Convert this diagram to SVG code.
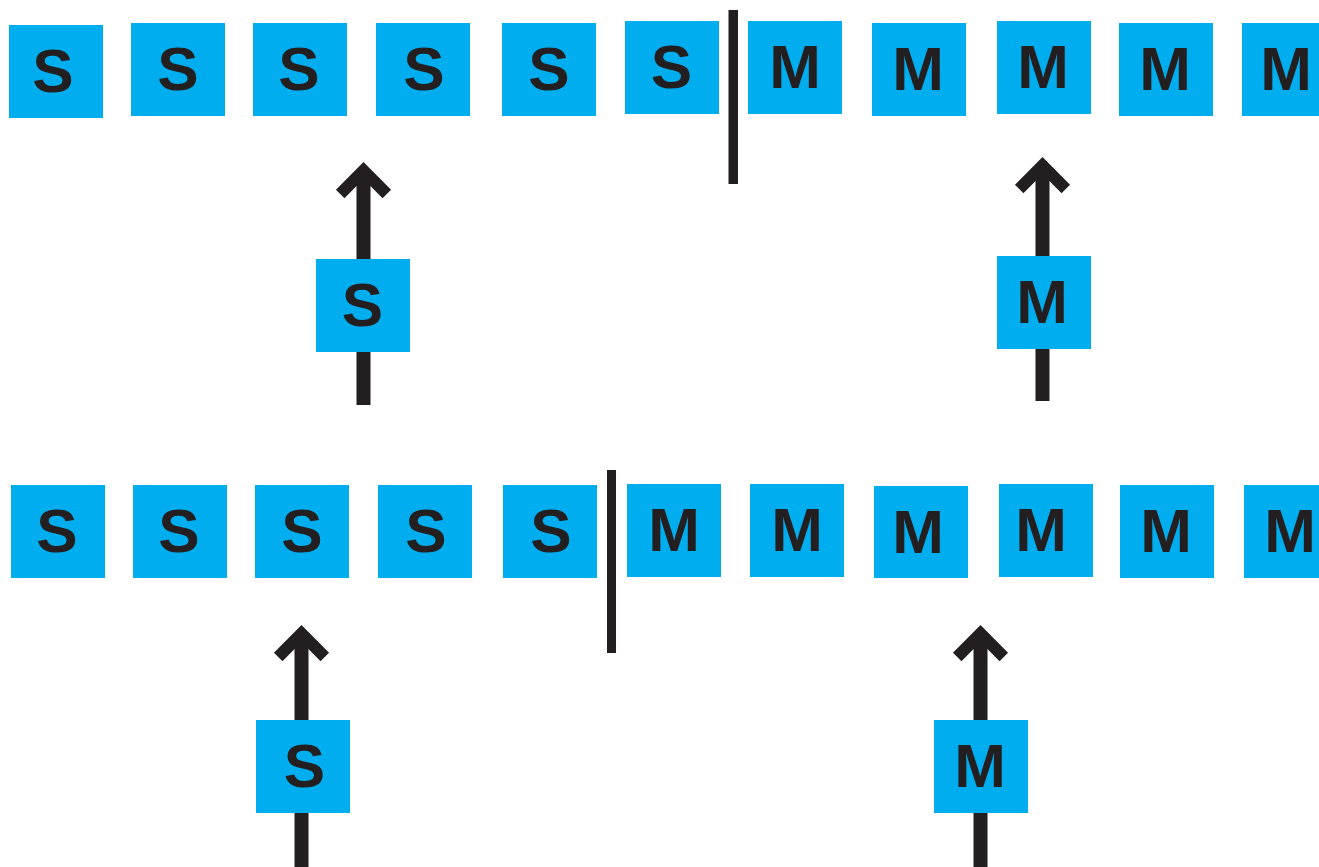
<svg xmlns="http://www.w3.org/2000/svg" width="1319" height="867" viewBox="0 0 1319 867">
  <style>
    .box { fill: #00AEEF; }
    .lbl { font-family: "Liberation Sans", Arial, sans-serif; font-weight: bold; font-size: 62px; fill: #231F20; text-anchor: middle; }
    .shaft { stroke: #231F20; stroke-width: 14; fill: none; stroke-linecap: butt; }
    .head { stroke: #231F20; stroke-width: 12; fill: none; stroke-linejoin: miter; stroke-miterlimit: 10; stroke-linecap: butt; }
    .divider { fill: #231F20; }
  </style>
  <rect width="1319" height="867" fill="#ffffff"/>

  <!-- arrows (shafts run under the moving boxes) -->
  <g id="connectors">
    <g id="arrow-top-s">
      <line class="shaft" x1="363.5" y1="171" x2="363.5" y2="405"/>
      <polyline class="head" points="340.2,194 363.5,170.5 386.8,194"/>
    </g>
    <g id="arrow-top-m">
      <line class="shaft" x1="1042.5" y1="166" x2="1042.5" y2="401"/>
      <polyline class="head" points="1019.2,189 1042.5,165.5 1065.8,189"/>
    </g>
    <g id="arrow-bottom-s">
      <line class="shaft" x1="301.5" y1="634" x2="301.5" y2="867"/>
      <polyline class="head" points="278.2,657 301.5,633.5 324.8,657"/>
    </g>
    <g id="arrow-bottom-m">
      <line class="shaft" x1="980.5" y1="634" x2="980.5" y2="867"/>
      <polyline class="head" points="957.2,657 980.5,633.5 1003.8,657"/>
    </g>
  </g>

  <!-- boundaries between the S and M runs -->
  <g id="dividers">
    <rect class="divider" x="728.5" y="10" width="9.5" height="174"/>
    <rect class="divider" x="607" y="470" width="9" height="183"/>
  </g>

  <!-- upper row -->
  <g id="top-row">
    <g id="t-s1"><rect class="box" x="9" y="25" width="94" height="93"/><text class="lbl" x="53" y="92">S</text></g>
    <g id="t-s2"><rect class="box" x="131" y="23" width="94" height="93"/><text class="lbl" x="178" y="90">S</text></g>
    <g id="t-s3"><rect class="box" x="253" y="23" width="94" height="93"/><text class="lbl" x="299" y="90">S</text></g>
    <g id="t-s4"><rect class="box" x="376" y="23" width="94" height="93"/><text class="lbl" x="424" y="90">S</text></g>
    <g id="t-s5"><rect class="box" x="502" y="23" width="94" height="93"/><text class="lbl" x="549" y="90">S</text></g>
    <g id="t-s6"><rect class="box" x="625" y="21" width="94" height="93"/><text class="lbl" x="671.5" y="88">S</text></g>
    <g id="t-m1"><rect class="box" x="748" y="21" width="94" height="93"/><text class="lbl" x="795" y="88">M</text></g>
    <g id="t-m2"><rect class="box" x="872" y="23" width="94" height="93"/><text class="lbl" x="918" y="90">M</text></g>
    <g id="t-m3"><rect class="box" x="997" y="21" width="94" height="93"/><text class="lbl" x="1043" y="88">M</text></g>
    <g id="t-m4"><rect class="box" x="1119" y="23" width="94" height="93"/><text class="lbl" x="1165" y="90">M</text></g>
    <g id="t-m5"><rect class="box" x="1242" y="23" width="94" height="93"/><text class="lbl" x="1286" y="90">M</text></g>
  </g>

  <!-- boxes being inserted into the upper row -->
  <g id="t-move-s"><rect class="box" x="316" y="259" width="94" height="93"/><text class="lbl" x="362.5" y="326">S</text></g>
  <g id="t-move-m"><rect class="box" x="997" y="256" width="94" height="93"/><text class="lbl" x="1042" y="323">M</text></g>

  <!-- lower row -->
  <g id="bottom-row">
    <g id="b-s1"><rect class="box" x="11" y="485" width="94" height="93"/><text class="lbl" x="57" y="552">S</text></g>
    <g id="b-s2"><rect class="box" x="133" y="485" width="94" height="93"/><text class="lbl" x="179" y="552">S</text></g>
    <g id="b-s3"><rect class="box" x="255" y="485" width="94" height="93"/><text class="lbl" x="302" y="552">S</text></g>
    <g id="b-s4"><rect class="box" x="378" y="485" width="94" height="93"/><text class="lbl" x="426" y="552">S</text></g>
    <g id="b-s5"><rect class="box" x="503" y="485" width="94" height="93"/><text class="lbl" x="551" y="552">S</text></g>
    <g id="b-m1"><rect class="box" x="627" y="484" width="94" height="93"/><text class="lbl" x="674" y="551">M</text></g>
    <g id="b-m2"><rect class="box" x="750" y="484" width="94" height="93"/><text class="lbl" x="797" y="551">M</text></g>
    <g id="b-m3"><rect class="box" x="874" y="486" width="94" height="92"/><text class="lbl" x="918" y="553">M</text></g>
    <g id="b-m4"><rect class="box" x="999" y="484" width="94" height="93"/><text class="lbl" x="1041" y="551">M</text></g>
    <g id="b-m5"><rect class="box" x="1120" y="485" width="94" height="93"/><text class="lbl" x="1166" y="552">M</text></g>
    <g id="b-m6"><rect class="box" x="1244" y="485" width="94" height="93"/><text class="lbl" x="1290" y="552">M</text></g>
  </g>

  <!-- boxes being inserted into the lower row -->
  <g id="b-move-s"><rect class="box" x="256" y="720" width="94" height="93"/><text class="lbl" x="304.5" y="787">S</text></g>
  <g id="b-move-m"><rect class="box" x="934" y="720" width="94" height="93"/><text class="lbl" x="980" y="787">M</text></g>
</svg>
